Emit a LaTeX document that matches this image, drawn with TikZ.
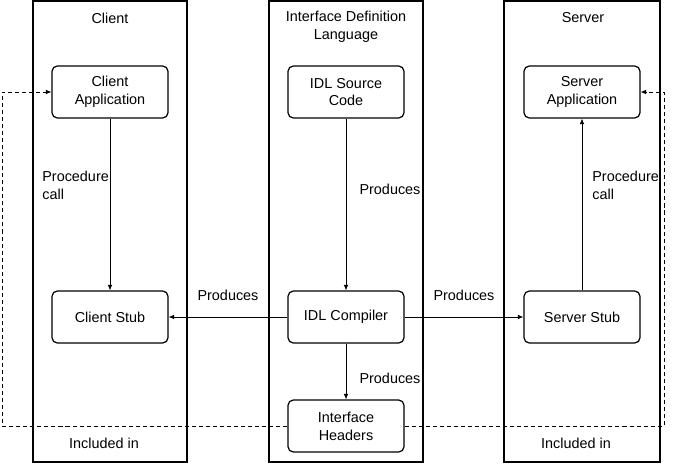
\documentclass[tikz,border=0pt]{standalone}
\usepackage{fontspec}
\setmainfont{Liberation Sans}
\usetikzlibrary{arrows.meta,positioning}

\begin{document}
\begin{tikzpicture}[x=0.02cm,y=-0.02cm,
  font=\fontsize{8.2}{10.2}\selectfont,
  block/.style={draw,line width=0.7pt,rounded corners=3pt,minimum width=2.32cm,minimum height=1.04cm,align=center,inner sep=0pt},
  lbl/.style={inner sep=0pt,align=left},
  link/.style={-{Latex[length=3.2pt,width=2.8pt]},line width=0.5pt},
  incl/.style={dash pattern=on 2.3pt off 1.7pt}]
\useasboundingbox (0,0) rectangle (685,463);

% Columns
\foreach \x/\w in {33/187,269/423,504/660} {
    \draw[line width=0.8pt] (\x,1) rectangle (\w,462);
}
\node (tclient) at (110,18) {Client};
\node[align=center] (tidl) at (346,27) {Interface Definition\\Language};
\node (tserver) at (583,18) {Server};
\node (inclL) at (104,443) {Included in};
\node (inclR) at (576,443) {Included in};

% Blocks
\node[block] (clientapp) at (110,92) {Client\\Application};
\node[block] (clientstub) at (110,317) {Client Stub};
\node[block] (idlsrc) at (346,92) {IDL Source\\Code};
\node[block] (idlcomp) at (346,317) {IDL Compiler};
\node[block] (headers) at (346,426) {Interface\\Headers};
\node[block] (serverapp) at (582,92) {Server\\Application};
\node[block] (serverstub) at (582,317) {Server Stub};

% Produces
\draw[link] (idlsrc) -- (idlcomp);
\draw[link] (idlcomp) -- (clientstub);
\draw[link] (idlcomp) -- (serverstub);
\draw[link] (idlcomp) -- (headers);
\node (pr1) at (390,189) {Produces};
\node (pr2) at (228,295) {Produces};
\node (pr3) at (464,295) {Produces};
\node (pr4) at (390,378) {Produces};

% Procedure calls
\draw[link] (clientapp) -- (clientstub);
\draw[link] (serverstub) -- (serverapp);
\node[lbl,anchor=west] (callL) at (42,185) {Procedure\\call};
\node[lbl,anchor=west] (callR) at (592,185) {Procedure\\call};

% Included in
\draw[link,incl] (headers.west) -- (2,426) |- (clientapp.west);
\draw[link,incl] (headers.east) -- (664,426) |- (serverapp.east);
\end{tikzpicture}
\end{document}
